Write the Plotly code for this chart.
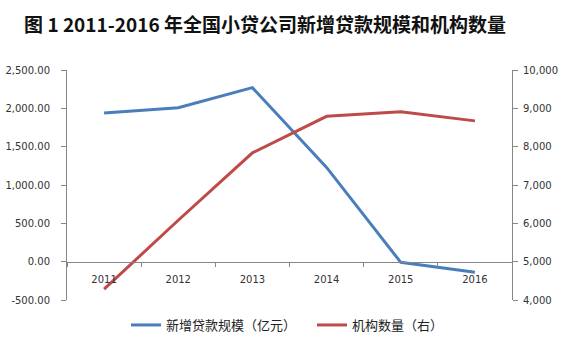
import plotly.graph_objects as go

# 2011-2016 new micro-loan volume (100 million yuan) and number of institutions
years = ["2011", "2012", "2013", "2014", "2015", "2016"]
new_loans = [1939.69, 2006.64, 2269.89, 1229.11, -8.87, -138.71]
institutions = [4282, 6080, 7839, 8791, 8910, 8673]

left_ticks = [-500, 0, 500, 1000, 1500, 2000, 2500]
left_labels = ["-500.00", "0.00", "500.00", "1,000.00", "1,500.00", "2,000.00", "2,500.00"]
right_ticks = [4000, 5000, 6000, 7000, 8000, 9000, 10000]
right_labels = ["4,000", "5,000", "6,000", "7,000", "8,000", "9,000", "10,000"]

BLUE = "#4A7EBB"
RED = "#BE4B48"
AXIS = "#868686"
TICKFONT = dict(family="DejaVu Sans, Verdana, sans-serif", size=10, color="#333333")
CJK = "Noto Sans CJK SC, sans-serif"

fig = go.Figure()
fig.add_trace(go.Scatter(
    x=years, y=new_loans, name="新增贷款规模（亿元）", mode="lines",
    line=dict(color=BLUE, width=3), yaxis="y"))
fig.add_trace(go.Scatter(
    x=years, y=institutions, name="机构数量（右）", mode="lines",
    line=dict(color=RED, width=3), yaxis="y2"))

y_lo, y_hi = left_ticks[0], left_ticks[-1]
zero_pos = (0 - y_lo) / (y_hi - y_lo)

fig.update_layout(
    width=563, height=340,
    margin=dict(l=67, r=51, t=70, b=40, autoexpand=False),
    paper_bgcolor="white", plot_bgcolor="white",
    title=dict(
        text="<b>图 1 2011-2016 年全国小贷公司新增贷款规模和机构数量</b>",
        font=dict(family=CJK, size=19, color="#111111", weight=900),
        x=(265 - 67) / 445, xref="paper", xanchor="center",
        y=1 - 25 / 340, yref="container", yanchor="middle"),
    xaxis=dict(
        type="category", range=[-0.5, 5.5], tickson="boundaries",
        anchor="free", position=zero_pos,
        showline=True, linecolor=AXIS, linewidth=1,
        ticks="outside", ticklen=4, tickcolor=AXIS,
        showgrid=False, zeroline=False, tickfont=TICKFONT,
        ticklabelstandoff=8),
    yaxis=dict(
        range=[y_lo, y_hi], tickvals=left_ticks, ticktext=left_labels,
        showline=True, linecolor=AXIS, linewidth=1,
        ticks="outside", ticklen=5, tickcolor=AXIS,
        showgrid=False, zeroline=False, tickfont=TICKFONT,
        ticklabelstandoff=9),
    yaxis2=dict(
        range=[right_ticks[0], right_ticks[-1]], tickvals=right_ticks,
        ticktext=right_labels, overlaying="y", side="right",
        showline=True, linecolor=AXIS, linewidth=1,
        ticks="outside", ticklen=5, tickcolor=AXIS,
        showgrid=False, zeroline=False, tickfont=TICKFONT,
        ticklabelstandoff=3),
    legend=dict(
        orientation="h", x=(126 - 67) / 445, xanchor="left",
        y=-25 / 230, yanchor="middle",
        font=dict(family=CJK, size=13, color="#222222"),
        itemwidth=30, entrywidth=141, entrywidthmode="pixels",
        bgcolor="rgba(0,0,0,0)"),
    showlegend=True,
)

fig.write_html("out.html")
